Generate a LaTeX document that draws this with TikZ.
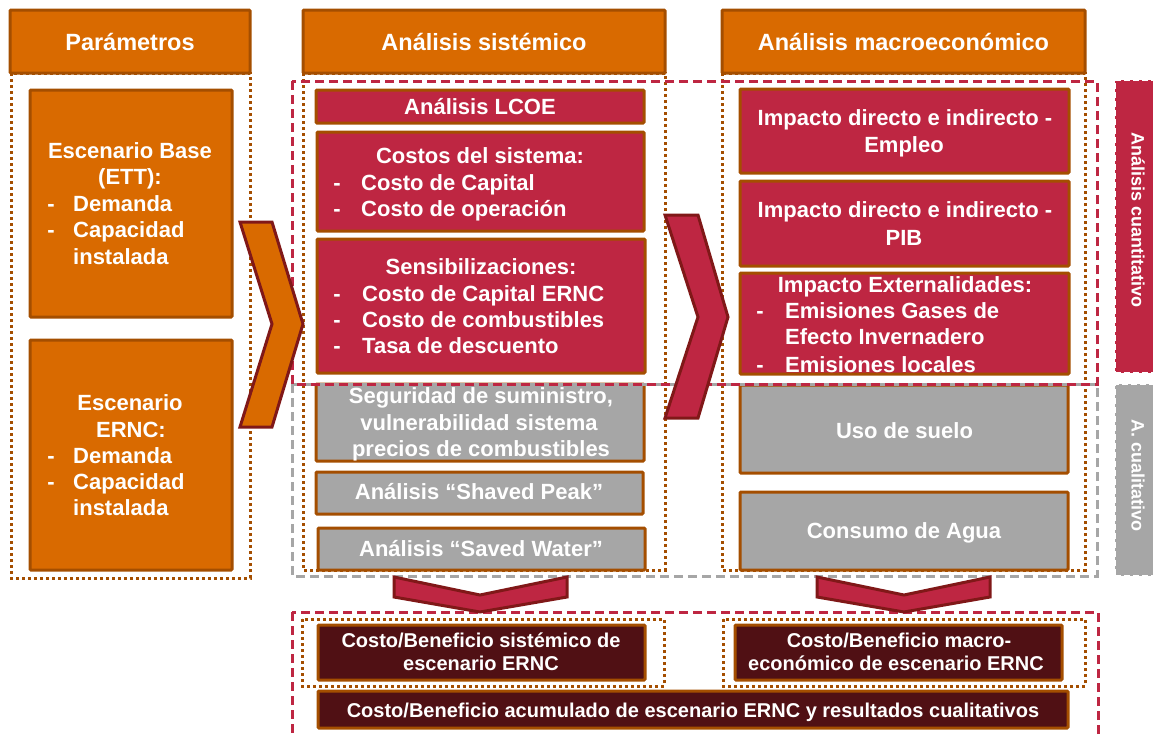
\documentclass[tikz,border=0pt]{standalone}
\usepackage{fontspec}
\setmainfont{Liberation Sans}
\definecolor{orng}{RGB}{217,106,0}
\definecolor{brwn}{RGB}{164,78,0}
\definecolor{crim}{RGB}{190,38,66}
\definecolor{drk}{RGB}{80,16,20}
\definecolor{gry}{RGB}{166,166,166}
\definecolor{chev}{RGB}{128,24,24}
\begin{document}
\begin{tikzpicture}[x=1pt,y=-1pt,
  obox/.style={fill=orng,draw=brwn,line width=3pt,inner sep=0pt,rounded corners=1pt},
  rbox/.style={fill=crim,draw=brwn,line width=3pt,inner sep=0pt,rounded corners=1pt},
  gbox/.style={fill=gry,draw=brwn,line width=3pt,inner sep=0pt,rounded corners=1pt},
  dbox/.style={fill=drk,draw=brwn,line width=3pt,inner sep=0pt,rounded corners=1pt},
  dotbox/.style={draw=brwn,line width=3pt,dash pattern=on 3pt off 3pt},
  rdash/.style={draw=crim,line width=3pt,dash pattern=on 9pt off 5pt},
  gdash/.style={draw=gry,line width=3pt,dash pattern=on 9pt off 5pt},
  tx/.style={text=white,font=\bfseries\fontsize{22}{26}\selectfont,inner sep=0pt,anchor=base},
  txw/.style={tx,anchor=base west},
  htx/.style={tx,font=\bfseries\fontsize{23.5}{28}\selectfont},
  btx/.style={tx,font=\bfseries\fontsize{20}{23}\selectfont},
  ltx/.style={text=white,font=\bfseries\fontsize{18}{22}\selectfont,inner sep=0pt,rotate=-90},
  lbox/.style={draw=white,line width=1.2pt,dash pattern=on 6pt off 3pt,inner sep=0pt},
  chv/.style={draw=chev,line width=3pt,line join=miter}
]
\useasboundingbox (0,0) rectangle (1153,734);
\clip (0,0) rectangle (1153,734);

% dotted column containers
\draw[dotbox] (11,73) rectangle (250,578);
\draw[dotbox] (303,73) rectangle (665,570);
\draw[dotbox] (722,73) rectangle (1085,570);

% headers
\node[obox,minimum width=240pt,minimum height=63pt] (hpar) at (130,41.5) {};
\node[obox,minimum width=362pt,minimum height=63pt] (hsis) at (484,41.5) {};
\node[obox,minimum width=363pt,minimum height=63pt] (hmac) at (903.5,41.5) {};
\node[htx] (thpar) at (130,50) {Parámetros};
\node[htx] (thsis) at (484,50) {Análisis sistémico};
\node[htx] (thmac) at (903.5,50) {Análisis macroeconómico};

% left boxes
\node[obox,minimum width=202pt,minimum height=227pt] (ebase) at (131,203.5) {};
\node[obox,minimum width=202pt,minimum height=230pt] (eernc) at (131,455) {};
\node[tx] (eb1) at (130,158) {Escenario Base};
\node[tx] (eb2) at (130,184.5) {(ETT):};
\node[tx] (eb3d) at (51,211) {-};
\node[txw] (eb3) at (73,211) {Demanda};
\node[tx] (eb4d) at (51,237.5) {-};
\node[txw] (eb4) at (73,237.5) {Capacidad};
\node[txw] (eb5) at (73,264) {instalada};
\node[tx] (er1) at (130,410) {Escenario};
\node[tx] (er2) at (131,437) {ERNC:};
\node[tx] (er3d) at (51,463) {-};
\node[txw] (er3) at (73,463) {Demanda};
\node[tx] (er4d) at (51,489) {-};
\node[txw] (er4) at (73,489) {Capacidad};
\node[txw] (er5) at (73,515) {instalada};

% sistemico boxes
\node[rbox,minimum width=328pt,minimum height=33pt] (lcoe) at (480,106.5) {};
\node[rbox,minimum width=327pt,minimum height=99pt] (costos) at (480.5,181.5) {};
\node[rbox,minimum width=328pt,minimum height=134pt] (sens) at (481,306) {};
\node[gbox,minimum width=328pt,minimum height=77pt] (seg) at (480,422.5) {};
\node[gbox,minimum width=327pt,minimum height=42pt] (shaved) at (479.5,493) {};
\node[gbox,minimum width=327pt,minimum height=42pt] (saved) at (481.5,549) {};
\node[tx] (tl) at (480,114) {Análisis LCOE};
\node[tx] (tc0) at (480,163) {Costos del sistema:};
\node[tx] (tc1d) at (337,190) {-};
\node[txw] (tc1) at (361,190) {Costo de Capital};
\node[tx] (tc2d) at (337,216) {-};
\node[txw] (tc2) at (361,216) {Costo de operación};
\node[tx] (ts0) at (481,274) {Sensibilizaciones:};
\node[tx] (ts1d) at (337,301) {-};
\node[txw] (ts1) at (362,301) {Costo de Capital ERNC};
\node[tx] (ts2d) at (337,327) {-};
\node[txw] (ts2) at (362,327) {Costo de combustibles};
\node[tx] (ts3d) at (337,353) {-};
\node[txw] (ts3) at (362,353) {Tasa de descuento};
\node[tx] (tg1) at (481,403) {Seguridad de suministro,};
\node[tx] (tg2) at (479,430) {vulnerabilidad sistema};
\node[tx] (tg3) at (481,456) {precios de combustibles};
\node[tx] (tsp) at (479,499) {Análisis “Shaved Peak”};
\node[tx] (tsw) at (481,556) {Análisis “Saved Water”};

% macro boxes
\node[rbox,minimum width=329pt,minimum height=84pt] (empleo) at (904.5,131) {};
\node[rbox,minimum width=329pt,minimum height=85pt] (pib) at (904.5,223.5) {};
\node[rbox,minimum width=329pt,minimum height=101pt] (ext) at (904.5,323.5) {};
\node[gbox,minimum width=328pt,minimum height=88pt] (suelo) at (904,429) {};
\node[gbox,minimum width=328pt,minimum height=78pt] (agua) at (904,531) {};
\node[tx] (te1) at (905,125) {Impacto directo e indirecto -};
\node[tx] (te2) at (904,152) {Empleo};
\node[tx] (tp1) at (905,217) {Impacto directo e indirecto -};
\node[tx] (tp2) at (904,245) {PIB};
\node[tx] (tx0) at (905,292) {Impacto Externalidades:};
\node[tx] (tx1d) at (760,318) {-};
\node[txw] (tx1) at (785,318) {Emisiones Gases de};
\node[txw] (tx2) at (785,344) {Efecto Invernadero};
\node[tx] (tx3d) at (760,372) {-};
\node[txw] (tx3) at (785,372) {Emisiones locales};
\node[tx] (tu) at (904.5,438) {Uso de suelo};
\node[tx] (ta) at (904,538) {Consumo de Agua};

% analysis frames
\draw[gdash] (292,384) rectangle (1097,576);
\draw[rdash] (292,81) rectangle (1097,384);

% side labels
\node[fill=crim,lbox,minimum width=41pt,minimum height=293pt] (lcuant) at (1135.5,226.5) {};
\node[fill=gry,lbox,minimum width=41pt,minimum height=192pt] (lcual) at (1135.5,480) {};
\node[ltx] (tlcuant) at (1138,220) {Análisis cuantitativo};
\node[ltx] (tlcual) at (1138,475.5) {A. cualitativo};

% chevrons
\filldraw[chv,fill=orng] (240,222) -- (272,222) -- (303,324) -- (272,427) -- (240,427) -- (272,324) -- cycle;
\filldraw[chv,fill=crim] (665,215) -- (698,215) -- (728,317) -- (698,418) -- (665,418) -- (698,317) -- cycle;

% bottom section
\draw[rdash] (292,612) rectangle (1098,760);
\draw[dotbox] (302,619) rectangle (664,686);
\draw[dotbox] (723,619) rectangle (1085,686);
\filldraw[chv,fill=crim] (394,577) -- (480,595) -- (567,577) -- (567,597) -- (480,612) -- (394,597) -- cycle;
\filldraw[chv,fill=crim] (817,577) -- (904,595) -- (990,577) -- (990,597) -- (904,612) -- (817,597) -- cycle;
\node[dbox,minimum width=327pt,minimum height=55pt] (siscb) at (481.5,652.5) {};
\node[dbox,minimum width=327pt,minimum height=55pt] (maccb) at (898.5,652.5) {};
\node[dbox,minimum width=750pt,minimum height=37pt] (acum) at (693,709.5) {};
\node[btx] (tb1) at (481,647) {Costo/Beneficio sistémico de};
\node[btx] (tb2) at (481,670) {escenario ERNC};
\node[btx] (tb3) at (899,647) {Costo/Beneficio macro-};
\node[btx] (tb4) at (896,670) {económico de escenario ERNC};
\node[btx] (tb5) at (693,717) {Costo/Beneficio acumulado de escenario ERNC y resultados cualitativos};
\end{tikzpicture}
\end{document}
